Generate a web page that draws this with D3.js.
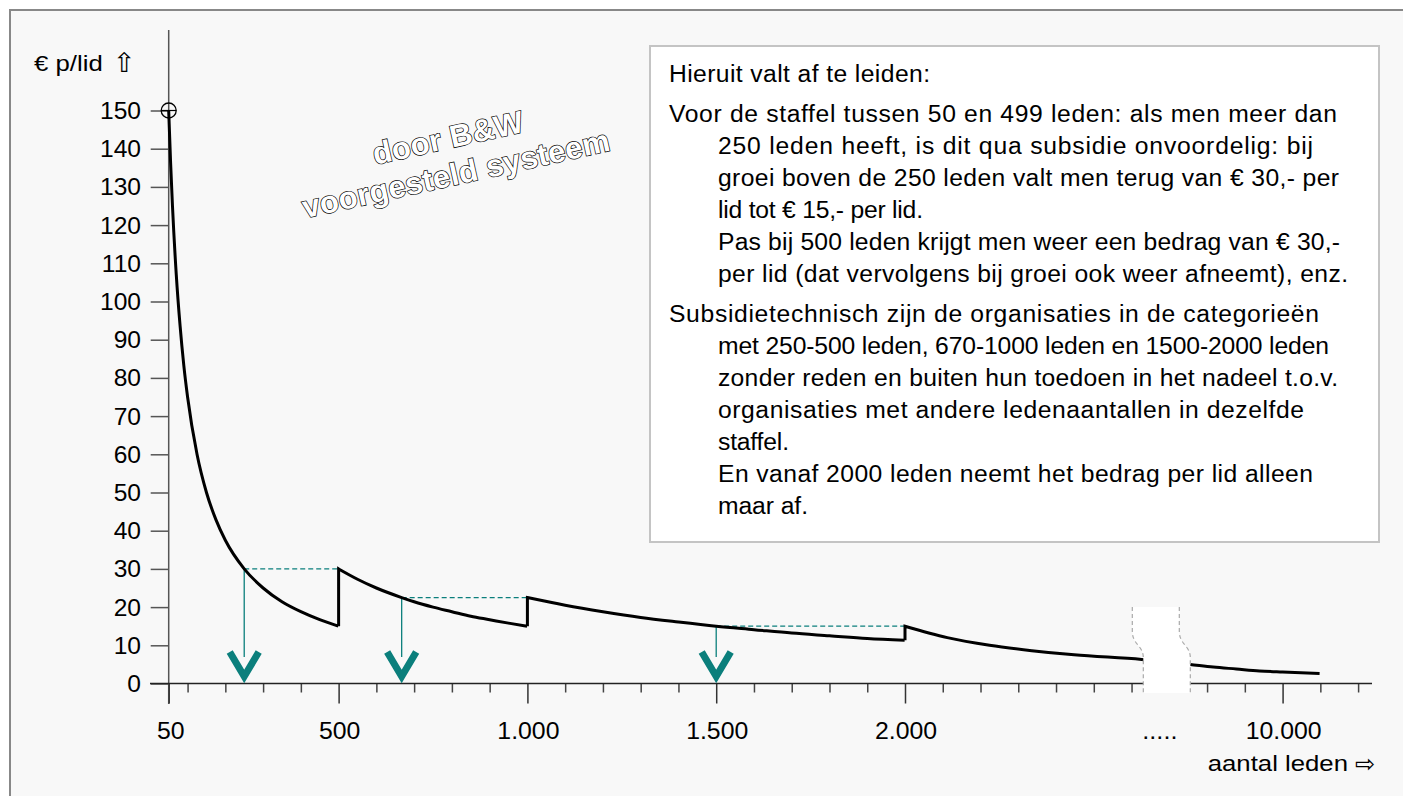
<!DOCTYPE html>
<html><head><meta charset="utf-8">
<script src="https://cdn.jsdelivr.net/npm/d3@7"></script>
<style>
html,body{margin:0;padding:0;background:#fff;}
svg{display:block;}
text{font-family:"Liberation Sans",Arial,"DejaVu Sans",sans-serif;fill:#000;}
.arr{font-family:"DejaVu Sans",sans-serif;fill:#000;}
</style></head><body>
<svg id="chart" width="1403" height="796"></svg>
<script>
// ---------- data ----------
const seg1Members = [50, 55, 60, 70, 80, 90, 100, 125, 150, 175, 200, 250, 300, 350, 400, 450, 499];
const seg1Values  = [150, 136.4, 125, 107.1, 93.8, 83.3, 75, 60, 50, 42.9, 37.5, 30, 25, 21.4, 18.8, 16.7, 15.0];
const seg2Members = [500, 550, 600, 667, 700, 750, 800, 850, 900, 950, 999];
const seg2Values  = [30, 27.3, 25, 22.5, 21.4, 20, 18.8, 17.6, 16.7, 15.8, 15.0];
const seg3Members = [1000, 1100, 1200, 1300, 1400, 1500, 1600, 1700, 1800, 1900, 1999];
const seg3Values  = [22.5, 20.5, 18.8, 17.3, 16.1, 15, 14.1, 13.2, 12.5, 11.8, 11.3];
const seg4Members = [2000, 2500, 3000, 3500, 4000, 4800, 6000, 7000, 8000, 9000, 10000, 11600];
const seg4Values  = [15, 12, 10, 8.6, 7.5, 6.3, 5, 4.3, 3.8, 3.3, 3, 2.6];

// dashed comparison lines: from member -> to member at value
const dashFrom  = [250, 667, 1500];
const dashTo    = [500, 1000, 2000];
const dashValue = [30, 22.5, 15];

const yTicks = [0,10,20,30,40,50,60,70,80,90,100,110,120,130,140,150];
const xMajorUnits  = [50, 500, 1000, 1500, 2000, 3000];
const xMajorLabels = ["50", "500", "1.000", "1.500", "2.000", "10.000"];

const noteLines = [
  ["Hieruit valt af te leiden:", 0],
  ["Voor de staffel tussen 50 en 499 leden: als men meer dan", 0],
  ["250 leden heeft, is dit qua subsidie onvoordelig: bij", 1],
  ["groei boven de 250 leden valt men terug van € 30,- per", 1],
  ["lid tot € 15,- per lid.", 1],
  ["Pas bij 500 leden krijgt men weer een bedrag van € 30,-", 1],
  ["per lid (dat vervolgens bij groei ook weer afneemt), enz.", 1],
  ["Subsidietechnisch zijn de organisaties in de categorieën", 0],
  ["met 250-500 leden, 670-1000 leden en 1500-2000 leden", 1],
  ["zonder reden en buiten hun toedoen in het nadeel t.o.v.", 1],
  ["organisaties met andere ledenaantallen in dezelfde", 1],
  ["staffel.", 1],
  ["En vanaf 2000 leden neemt het bedrag per lid alleen", 1],
  ["maar af.", 1]
];
const noteParaBreak = [1, 7];
// layout: rendered width of each note line in the original
const noteLineWidths = [261, 668, 595, 621, 205, 622, 630, 650, 611, 620, 586, 71, 595, 90];

// ---------- layout ----------
const svg = d3.select("#chart");
const teal = "#0b7f7c";
const y = d3.scaleLinear().domain([0, 150]).range([683.5, 110.5]);
// axis units -> px (evenly spaced ticks)
const u = d3.scaleLinear().domain([50, 2000]).range([168.7, 905]);
// members -> px (axis compressed after 2000, with a break)
const x = d3.scaleLinear().domain([50, 2000, 4800, 6000, 10000]).range([u(50), u(2000), u(2627), u(2755), u(3000)]);

function txt(parent, tx, ty, str, size, sx, anchor) {
  return parent.append("text")
    .attr("transform", `translate(${tx},${ty}) scale(${sx},1)`)
    .attr("text-anchor", anchor || "start")
    .attr("font-size", size).text(str);
}

// frame
svg.append("rect").attr("x", 10).attr("y", 10).attr("width", 1400).attr("height", 800)
  .attr("fill", "#f8f8f8").attr("stroke", "#888").attr("stroke-width", 2);

// y axis
const yAxisG = svg.append("g").attr("transform", `translate(${u(50)},0)`)
  .call(d3.axisLeft(y).tickValues(yTicks).tickSize(18).tickFormat(""));
yAxisG.select(".domain").remove();
yAxisG.selectAll(".tick line").attr("stroke", "#555").attr("stroke-width", 1.5);
yTicks.forEach(v => txt(svg, 141, y(v) + 8.5, String(v), 23, 1.07, "end"));
svg.append("line").attr("x1", u(50)).attr("x2", u(50)).attr("y1", 30).attr("y2", 704)
  .attr("stroke", "#555").attr("stroke-width", 1.5);

// x axis
const minorUnits = d3.range(100, 3300, 100).filter(d => !xMajorUnits.includes(d));
const xMinorG = svg.append("g").attr("transform", `translate(0,${y(0)})`)
  .call(d3.axisBottom(u).tickValues(minorUnits).tickSize(9).tickFormat(""));
xMinorG.select(".domain").remove();
xMinorG.selectAll(".tick line").attr("stroke", "#444").attr("stroke-width", 1.5);
const xMajorG = svg.append("g").attr("transform", `translate(0,${y(0)})`)
  .call(d3.axisBottom(u).tickValues(xMajorUnits).tickSize(20).tickFormat(""));
xMajorG.select(".domain").remove();
xMajorG.selectAll(".tick line").attr("stroke", "#333").attr("stroke-width", 1.5);
xMajorUnits.forEach((d, i) => txt(svg, u(d) + (i === 0 ? 2 : 1), 739, xMajorLabels[i], 23, 1.08, "middle"));
svg.append("line").attr("x1", 150).attr("x2", 1372).attr("y1", y(0)).attr("y2", y(0))
  .attr("stroke", "#222").attr("stroke-width", 1.5);

// dashed lines and verticals
dashFrom.forEach((f, i) => {
  svg.append("line").attr("x1", x(f)).attr("x2", x(dashTo[i]))
    .attr("y1", y(dashValue[i])).attr("y2", y(dashValue[i]))
    .attr("stroke", teal).attr("stroke-width", 1.3).attr("stroke-dasharray", "5,3");
  svg.append("line").attr("x1", x(f)).attr("x2", x(f))
    .attr("y1", y(dashValue[i])).attr("y2", 657)
    .attr("stroke", teal).attr("stroke-width", 1.3);
  const cx = x(f);
  svg.append("path").attr("d", `M${cx-14.5},${652}L${cx},${676.5}L${cx+14.5},${652}`)
    .attr("fill", "none").attr("stroke", teal).attr("stroke-width", 7)
    .attr("stroke-linejoin", "miter").attr("stroke-miterlimit", 10);
});

// curve
const line = d3.line().x(d => x(d[0])).y(d => y(d[1])).curve(d3.curveMonotoneX);
const segs = [[seg1Members, seg1Values], [seg2Members, seg2Values], [seg3Members, seg3Values], [seg4Members, seg4Values]];
let dStr = "";
segs.forEach(([m, v], i) => {
  let p = line(m.map((d, j) => [d, v[j]]));
  if (i > 0) { const prev = segs[i-1][1]; p = `M${x(m[0])},${y(prev[prev.length-1])}L` + p.slice(1); }
  dStr += p;
});
svg.append("path").attr("d", dStr).attr("fill", "none").attr("stroke", "#000")
  .attr("stroke-width", 3).attr("stroke-linejoin", "miter");

// start marker
svg.append("circle").attr("cx", x(50)).attr("cy", y(150)).attr("r", 7.5)
  .attr("fill", "none").attr("stroke", "#000").attr("stroke-width", 1.3);
svg.append("line").attr("x1", x(50) - 7.5).attr("x2", x(50) + 7.5).attr("y1", y(150)).attr("y2", y(150))
  .attr("stroke", "#000").attr("stroke-width", 1.2);

// axis break
const bc = u(2700);
const leftEdge  = `M${bc-37},607 L${bc-37},631 C${bc-37},645 ${bc-26},645 ${bc-26},658 L${bc-26},693`;
const rightEdge = `M${bc+10},607 L${bc+10},631 C${bc+10},645 ${bc+21},645 ${bc+21},658 L${bc+21},693`;
svg.append("path")
  .attr("d", `M${bc-37},607 L${bc-37},631 C${bc-37},645 ${bc-26},645 ${bc-26},658 L${bc-26},693 L${bc+21},693 L${bc+21},658 C${bc+21},645 ${bc+10},645 ${bc+10},631 L${bc+10},607 Z`)
  .attr("fill", "#fff");
[leftEdge, rightEdge].forEach(d => svg.append("path").attr("d", d).attr("fill", "none")
  .attr("stroke", "#aaa").attr("stroke-width", 1.2).attr("stroke-dasharray", "4,3"));

txt(svg, u(2675), 739, ".....", 23, 1.1, "middle");

// axis titles
txt(svg, 1348, 771, "aantal leden", 23, 1.12, "end");
svg.append("text").attr("class", "arr").attr("x", 1355).attr("y", 772).attr("font-size", 24).text("⇨");
txt(svg, 34, 71, "€ p/lid", 23, 1.12, "start");
svg.append("text").attr("class", "arr").attr("x", 113).attr("y", 72).attr("font-size", 27).text("⇧");

// watermark
const wm = svg.append("g").attr("transform", "translate(452,156) rotate(-12.5)");
["door B&W", "voorgesteld systeem"].forEach((t, i) => {
  wm.append("text").attr("x", 0).attr("y", i * 37 - 8).attr("text-anchor", "middle")
    .attr("font-size", 31).attr("font-weight", "bold")
    .style("fill", "#fff").attr("stroke", "#000").attr("stroke-width", 1.4)
    .attr("paint-order", "stroke").attr("letter-spacing", 0.3).text(t);
});

// note box
svg.append("rect").attr("x", 650).attr("y", 46).attr("width", 729).attr("height", 496)
  .attr("fill", "#fff").attr("stroke", "#c4c4c4").attr("stroke-width", 2);
const noteScale = 1.06;
let base = 82;
noteLines.forEach(([t, ind], i) => {
  if (i > 0) base += noteParaBreak.includes(i) ? 40 : 32;
  txt(svg, ind ? 718 : 669, base, t, 23.3, noteScale, "start")
    .attr("textLength", noteLineWidths[i] / noteScale)
    .attr("lengthAdjust", "spacing");
});
</script>
</body></html>
